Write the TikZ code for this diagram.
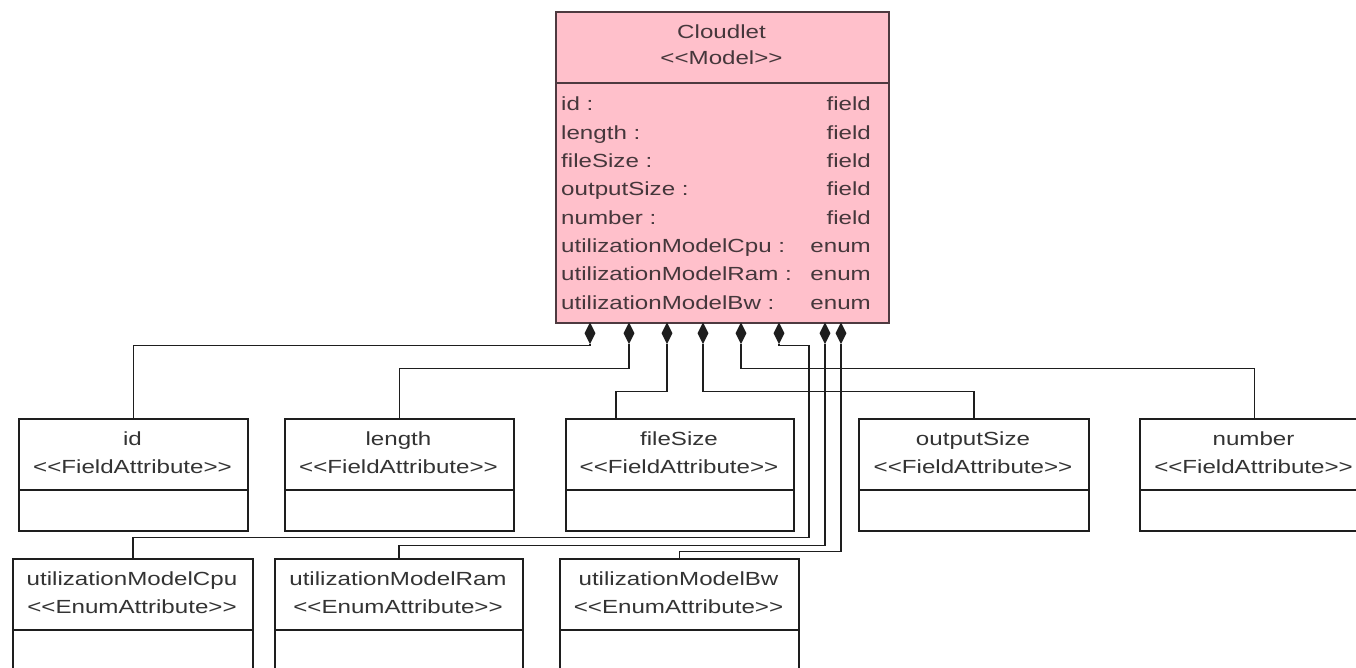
\documentclass[tikz,border=0pt]{standalone}
\usepackage{fontspec}
\setmainfont[FakeStretch=1.27]{Liberation Sans}
\usetikzlibrary{shapes.geometric}
\definecolor{ink}{HTML}{1E1E1E}
\definecolor{txt}{HTML}{333333}
\definecolor{modelfill}{HTML}{FFC0CB}
\definecolor{modeledge}{HTML}{4E3A40}
\definecolor{modeltxt}{HTML}{45373B}
\newcommand\stereo[1]{<{}<#1>{}>}
% attribute class box: name, left x, right x, top y, divider y, bottom y, title, stereotype
\newcommand\attrbox[8]{%
  \node[box, minimum width={#3-#2}, minimum height={#6-#4}] (#1) at (#2,#4) {};
  \draw[wire] (#2,#5) -- (#3,#5);
  \node[lbl] at ({(#2+#3)/2},{#4+27}) {#7};
  \node[lbl] at ({(#2+#3)/2},{#4+55}) {\stereo{#8}};}
\begin{document}
\begin{tikzpicture}[x=1pt,y=-1pt,
  box/.style={draw=ink, line width=1.8pt, anchor=north west, inner sep=0pt},
  lbl/.style={text=txt, anchor=base, inner sep=0pt, font=\fontsize{19}{28}\selectfont},
  mlbl/.style={text=modeltxt, inner sep=0pt, font=\fontsize{19}{28}\selectfont},
  wire/.style={draw=ink, line width=1.8pt},
  comp/.style={diamond, fill=ink, draw=none, inner sep=0pt,
    minimum width=11pt, minimum height=22pt, anchor=north}]
\useasboundingbox (0,0) rectangle (1356,668);
\clip (0,0) rectangle (1356,668);
\fill[white] (0,0) rectangle (1356,668);

% model class
\node[draw=modeledge, fill=modelfill, line width=1.8pt, anchor=north west,
  inner sep=0pt, minimum width=333pt, minimum height=311pt] (cloudlet) at (555,11) {};
\draw[draw=modeledge, line width=1.8pt] (555,83) -- (888,83);
\node[mlbl, anchor=base] at (721.5,39) {Cloudlet};
\node[mlbl, anchor=base] at (721.5,65) {\stereo{Model}};
\foreach \nm/\kind [count=\k from 0] in
  {id/field, length/field, fileSize/field, outputSize/field, number/field,
   utilizationModelCpu/enum, utilizationModelRam/enum, utilizationModelBw/enum} {
  \node[mlbl, anchor=base west] at (561,{111+28.3*\k}) {\nm\ :};
  \node[mlbl, anchor=base east] at (871,{111+28.3*\k}) {\kind};
}

% composition diamonds
\foreach \i/\xx in {1/590, 2/629, 3/667, 4/703, 5/741, 6/779, 7/825, 8/841}
  \node[comp] (d\i) at (\xx,322) {};

% field attributes
\attrbox{idA}{18}{247}{418}{490}{530}{id}{FieldAttribute}
\attrbox{lengthA}{284}{513}{418}{490}{530}{length}{FieldAttribute}
\attrbox{fileSizeA}{565}{793}{418}{490}{530}{fileSize}{FieldAttribute}
\attrbox{outputSizeA}{858}{1088}{418}{490}{530}{outputSize}{FieldAttribute}
\attrbox{numberA}{1139}{1368}{418}{490}{530}{number}{FieldAttribute}

% enum attributes
\attrbox{cpuA}{12}{252}{558}{630}{700}{utilizationModelCpu}{EnumAttribute}
\attrbox{ramA}{274}{522}{558}{630}{700}{utilizationModelRam}{EnumAttribute}
\attrbox{bwA}{559}{798}{558}{630}{700}{utilizationModelBw}{EnumAttribute}

% compositions
\draw[wire] (d1.south) -- ++(0,1) -| (idA.north);
\draw[wire] (d2.south) -- ++(0,24) -| (lengthA.north);
\draw[wire] (d3.south) -- ++(0,47) -| ([xshift=-64pt]fileSizeA.north);
\draw[wire] (d4.south) -- ++(0,47) -| (outputSizeA.north);
\draw[wire] (d5.south) -- ++(0,24) -| (numberA.north);
\draw[wire] (d6.south) -- ++(0,1) -- ++(30,0) -- ++(0,192) -| (cpuA.north);
\draw[wire] (d7.south) -- ++(0,201) -| (ramA.north);
\draw[wire] (d8.south) -- ++(0,207) -| (bwA.north);
\end{tikzpicture}
\end{document}
